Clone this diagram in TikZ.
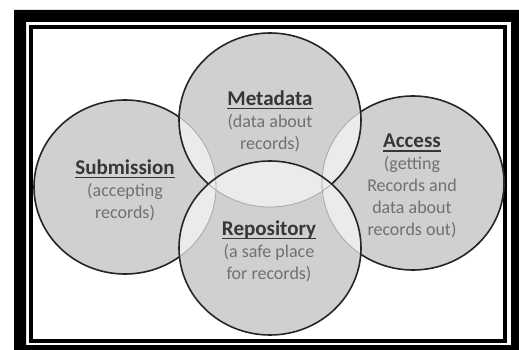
\documentclass[tikz,border=0pt]{standalone}
\usepackage{fontspec}
\setmainfont{Carlito}
\definecolor{cin}{HTML}{D0D0D0}
\definecolor{cout}{HTML}{B0B0B0}
\definecolor{lens}{HTML}{EBEBEB}
\definecolor{faint}{HTML}{A8A8A8}
\definecolor{dark}{HTML}{262626}
\definecolor{titlec}{HTML}{363636}
\definecolor{bodyc}{HTML}{707070}
\pgfdeclareradialshading{circshade}{\pgfpoint{0bp}{0bp}}{color(0bp)=(cin); color(44bp)=(cin); color(50bp)=(cout)}
\newcommand{\myul}[1]{\setbox0\hbox{#1}\rlap{\color{titlec}\rule[-4pt]{\wd0}{1.4pt}}\box0}
\newcommand{\ttl}[1]{\textcolor{titlec}{\fontsize{21}{22}\selectfont\bfseries\myul{#1}}}
\def\rx{91pt}
\def\ry{87pt}
\tikzset{
  circ/.style={x radius=\rx, y radius=\ry},
  lbl/.style={align=center, text=bodyc, font=\fontsize{18}{22}\selectfont, inner sep=0pt}
}
\begin{document}
\begin{tikzpicture}[x=1pt,y=-1pt]
\useasboundingbox (0,0) rectangle (519,350);
% frame
\fill[white] (0,0) rectangle (519,350);
\fill[black, even odd rule] (14,10) rectangle (530,362) (26,22) rectangle (511,345);
\draw[black, line width=4pt] (31,27) rectangle (505,341);
% centres
\coordinate (S) at (125,187);
\coordinate (A) at (413,183);
\coordinate (M) at (270,120);
\coordinate (R) at (270,248);
% fills
\foreach \c in {S,A,M,R} {\shade[shading=circshade] (\c) ellipse [circ];}
% lenses
\foreach \p/\q in {S/M,S/R,A/M,A/R,M/R} {
  \begin{scope}
    \clip (\p) ellipse [circ];
    \fill[lens] (\q) ellipse [circ];
  \end{scope}
}
% faint outlines
\foreach \c in {S,A,M} {\draw[faint, line width=0.8pt] (\c) ellipse [circ];}
% dark outlines
\begin{scope}[even odd rule]
  \clip (0,0) rectangle (519,350) (R) ellipse [circ];
  \draw[dark, line width=1.6pt] (M) ellipse [circ];
  \begin{scope}[even odd rule]
    \clip (0,0) rectangle (519,350) (M) ellipse [circ];
    \draw[dark, line width=1.6pt] (S) ellipse [circ];
    \draw[dark, line width=1.6pt] (A) ellipse [circ];
  \end{scope}
\end{scope}
\draw[dark, line width=1.6pt] (R) ellipse [circ];
% labels
\node[lbl] (tM) at (270,121) {\ttl{Metadata}\\(data about\\records)};
\node[lbl] (tS) at (125,190) {\ttl{Submission}\\(accepting\\records)};
\node[lbl] (tA) at (412,186) {\ttl{Access}\\(getting\\Records and\\data about\\records out)};
\node[lbl] (tR) at (269,251) {\ttl{Repository}\\(a safe place\\for records)};
\end{tikzpicture}
\end{document}
